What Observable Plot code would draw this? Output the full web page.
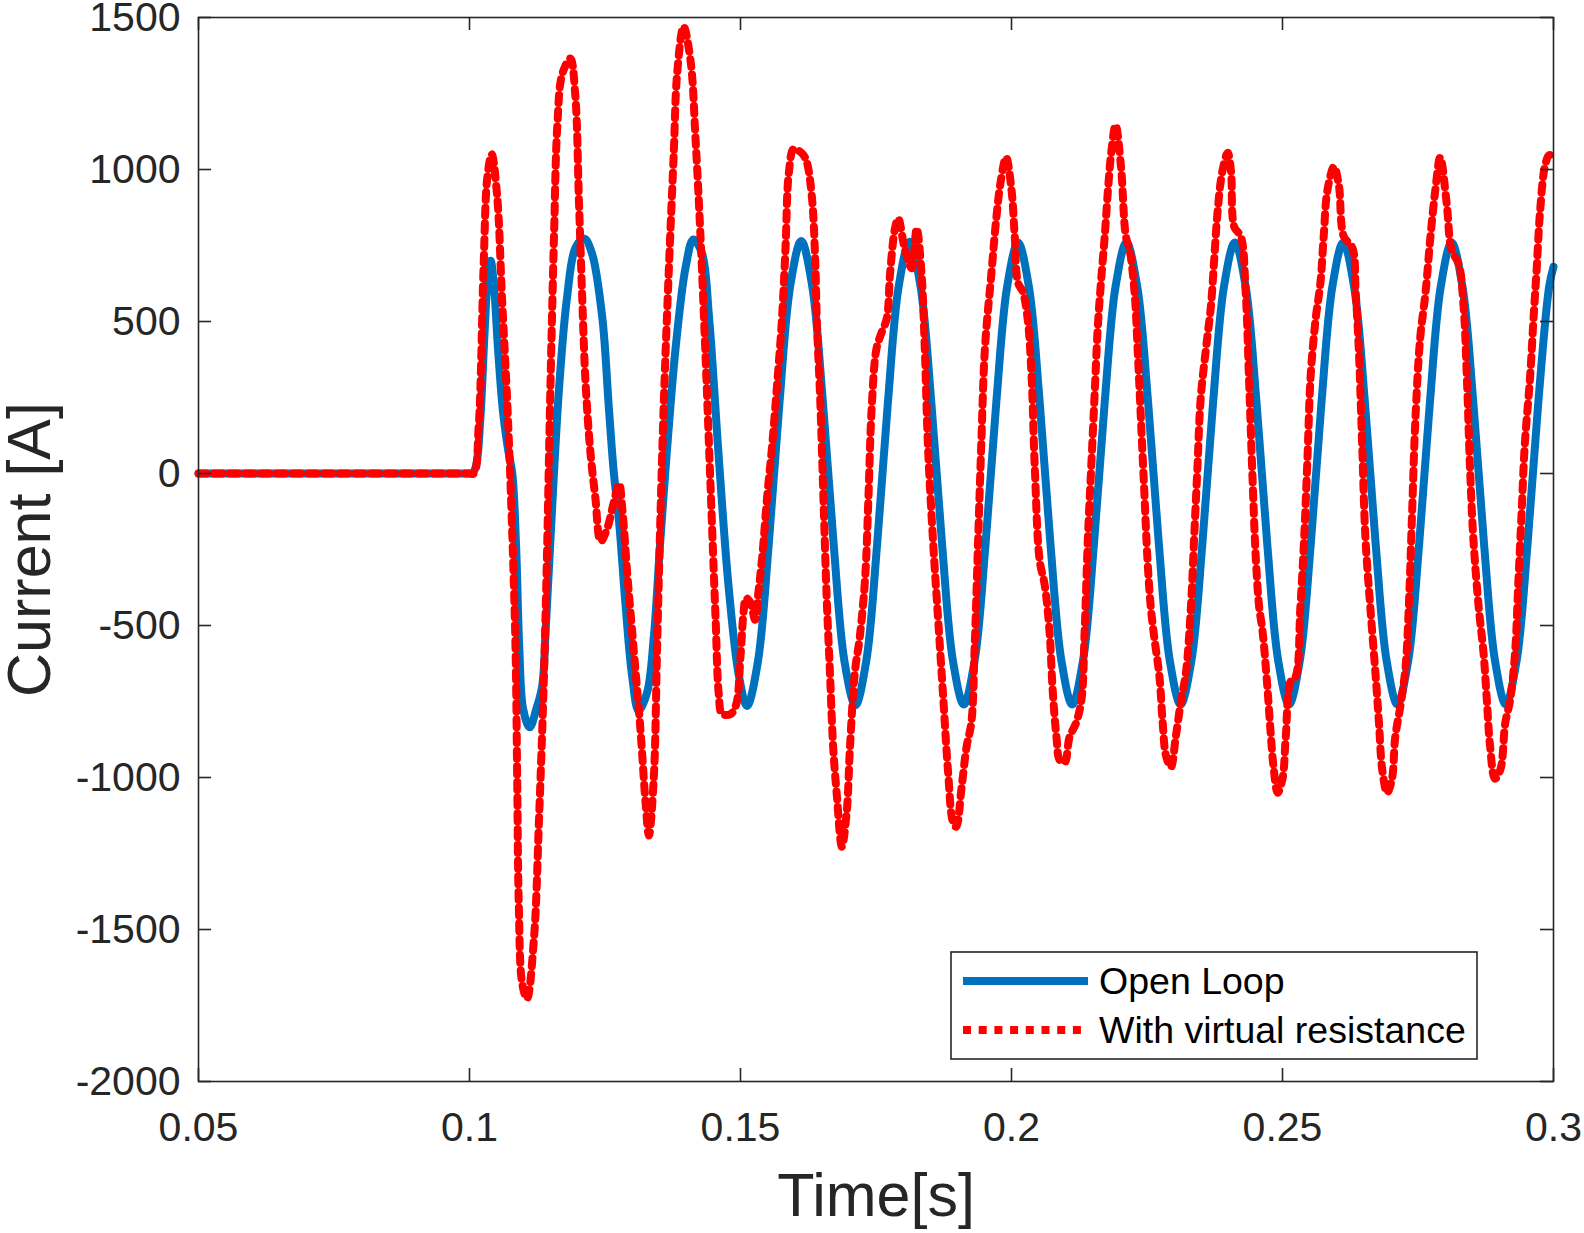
<!DOCTYPE html>
<html>
<head>
<meta charset="utf-8">
<script src="https://cdn.jsdelivr.net/npm/d3@7"></script>
<script src="https://cdn.jsdelivr.net/npm/@observablehq/plot@0.6"></script>
<style>
  html, body { margin: 0; padding: 0; background: #fff; overflow: hidden; }
  #wrap { position: relative; width: 1584px; height: 1233px; font-family: "Liberation Sans", Arial, sans-serif; }
  #wrap > svg { display: block; }
  #legend { position: absolute; left: 0; top: 0; }
</style>
</head>
<body>
<div id="wrap"></div>
<script>
// ---------- data ----------
const xTicks = [0.05, 0.1, 0.15, 0.2, 0.25, 0.3];
const xTickLabels = ["0.05", "0.1", "0.15", "0.2", "0.25", "0.3"];
const yTicks = [-2000, -1500, -1000, -500, 0, 500, 1000, 1500];
const yTickLabels = ["-2000", "-1500", "-1000", "-500", "0", "500", "1000", "1500"];
const xLabel = "Time[s]";
const yLabel = "Current [A]";
const seriesNames = ["Open Loop", "With virtual resistance"];

// Open Loop (blue)
const openLoopT = [
  0.050, 0.060, 0.070, 0.080, 0.090, 0.095, 0.1000, 0.1005, 0.1012, 0.1020, 0.1028, 0.1034, 0.1039, 0.1045, 0.1053, 0.1062,
  0.1072, 0.1079, 0.1086, 0.1092, 0.1099, 0.1111, 0.1124, 0.1134, 0.1141, 0.1154,
  0.1166, 0.1180, 0.1196, 0.1212, 0.1226, 0.1245, 0.1257, 0.1266, 0.1276, 0.1288,
  0.1300, 0.1312, 0.1328, 0.1340, 0.1352, 0.1365, 0.1380, 0.1399, 0.1413, 0.1429,
  0.1442, 0.1460, 0.1478, 0.1497, 0.1512,
  0.1532, 0.1552, 0.1572, 0.1592, 0.1612, 0.1632, 0.1652, 0.1672, 0.1692, 0.1712,
  0.1732, 0.1752, 0.1772, 0.1792, 0.1812, 0.1832, 0.1852, 0.1872, 0.1892, 0.1912,
  0.1932, 0.1952, 0.1972, 0.1992, 0.2012, 0.2032, 0.2052, 0.2072, 0.2092, 0.2112,
  0.2132, 0.2152, 0.2172, 0.2192, 0.2212, 0.2232, 0.2252, 0.2272, 0.2292, 0.2312,
  0.2332, 0.2352, 0.2372, 0.2392, 0.2412, 0.2432, 0.2452, 0.2472, 0.2492, 0.2512,
  0.2532, 0.2552, 0.2572, 0.2592, 0.2612, 0.2632, 0.2652, 0.2672, 0.2692, 0.2712,
  0.2732, 0.2752, 0.2772, 0.2792, 0.2812, 0.2832, 0.2852, 0.2872, 0.2892, 0.2912,
  0.2932, 0.2952, 0.2972, 0.2992, 0.3000
];
const openLoopI = [
  0, 0, 0, 0, 0, 0, 0, 0, 25, 180, 470, 650, 700, 620, 400, 200,
  70, 0, -240, -580, -775, -835, -770, -700, -500, -60,
  300, 580, 745, 772, 724, 513, 219, 8, -160, -434,
  -665, -781, -718, -539, -223, 92, 408, 681, 770, 724,
  513, 50, -371, -665, -765,
  -620, -235, 235, 620, 765, 620, 235, -235, -620, -762,
  -617, -235, 235, 617, 762, 617, 235, -235, -617, -760,
  -615, -235, 235, 615, 760, 615, 235, -235, -615, -760,
  -615, -235, 235, 615, 760, 615, 235, -235, -615, -760,
  -615, -235, 235, 615, 760, 615, 235, -235, -615, -760,
  -615, -235, 235, 615, 760, 615, 235, -235, -615, -760,
  -615, -235, 235, 615, 760, 615, 235, -235, -615, -760,
  -615, -235, 235, 615, 680
];

// With virtual resistance (red)
const virtualResT = [
  0.050, 0.060, 0.070, 0.080, 0.090, 0.095, 0.1000, 0.1008, 0.1017, 0.1026, 0.1033, 0.1041, 0.1051, 0.1060, 0.1070, 0.1079,
  0.1085, 0.1088, 0.1091, 0.1097, 0.1106, 0.1119, 0.1128, 0.1137, 0.1143, 0.1149,
  0.1156, 0.1162, 0.1171, 0.1186, 0.1195, 0.1202, 0.1208, 0.1214, 0.1223, 0.1232,
  0.1242, 0.1254, 0.1266, 0.1276, 0.1282, 0.1291, 0.1303, 0.1315, 0.1325, 0.1331,
  0.1340, 0.1346, 0.1352, 0.1359, 0.1368, 0.1377, 0.1383, 0.1395, 0.1408, 0.1417,
  0.1426, 0.1435, 0.1445, 0.1454, 0.1460, 0.1466, 0.1482, 0.1492, 0.1500, 0.1506,
  0.1510, 0.1518, 0.1527, 0.1533, 0.1540, 0.1549, 0.1558, 0.1567, 0.1576, 0.1583,
  0.1589, 0.1598, 0.1607, 0.1615, 0.1622, 0.1632, 0.1638, 0.1641, 0.1647, 0.1653,
  0.1659, 0.1665, 0.1671, 0.1678, 0.1687, 0.1696, 0.1702, 0.1711, 0.1720, 0.1730,
  0.1736, 0.1742, 0.1751, 0.1760, 0.1770, 0.1776, 0.1785, 0.1791, 0.1803, 0.1816,
  0.1825, 0.1834, 0.1840, 0.1846, 0.1856, 0.1865, 0.1874, 0.1883, 0.1892, 0.1898,
  0.1908, 0.1917, 0.1926, 0.1932, 0.1938, 0.1944, 0.1951, 0.1963, 0.1972, 0.1980,
  0.1990, 0.2000, 0.2006, 0.2012, 0.2021, 0.2030, 0.2037, 0.2043, 0.2052, 0.2061,
  0.2070, 0.2076, 0.2083, 0.2089, 0.2098, 0.2107, 0.2119, 0.2129, 0.2135, 0.2141,
  0.2147, 0.2153, 0.2159, 0.2165, 0.2172, 0.2178, 0.2184, 0.2192, 0.2202, 0.2211,
  0.2218, 0.2227, 0.2233, 0.2239, 0.2245, 0.2251, 0.2257, 0.2264, 0.2273, 0.2279,
  0.2285, 0.2294, 0.2303, 0.2313, 0.2322, 0.2331, 0.2337, 0.2343, 0.2349, 0.2359,
  0.2368, 0.2374, 0.2380, 0.2389, 0.2399, 0.2405, 0.2411, 0.2423, 0.2432, 0.2438,
  0.2444, 0.2451, 0.2457, 0.2463, 0.2472, 0.2478, 0.2484, 0.2491, 0.2500, 0.2506,
  0.2515, 0.2524, 0.2533, 0.2540, 0.2546, 0.2552, 0.2561, 0.2570, 0.2576, 0.2583,
  0.2595, 0.2604, 0.2613, 0.2629, 0.2635, 0.2641, 0.2647, 0.2653, 0.2662, 0.2672,
  0.2678, 0.2684, 0.2693, 0.2702, 0.2708, 0.2718, 0.2727, 0.2733, 0.2739, 0.2745,
  0.2754, 0.2764, 0.2773, 0.2782, 0.2791, 0.2803, 0.2812, 0.2825, 0.2834, 0.2840,
  0.2846, 0.2852, 0.2862, 0.2871, 0.2877, 0.2883, 0.2892, 0.2902, 0.2911, 0.2920,
  0.2929, 0.2935, 0.2941, 0.2947, 0.2957, 0.2963, 0.2969, 0.2975, 0.2984, 0.2992,
  0.3000
];
const virtualResI = [
  0, 0, 0, 0, 0, 0, 0, 0, 156, 681, 976, 1050, 913, 576, 219, -202,
  -581, -1002, -1422, -1675, -1728, -1528, -1149, -686, -265, 261,
  787, 1144, 1313, 1365, 1249, 892, 576, 303, 71, -76,
  -223, -181, -97, -34, -118, -328, -581, -833, -1086, -1191,
  -1002, -581, -160, 261, 681, 1060, 1313, 1470, 1355, 1102,
  787, 408, -55, -476, -728, -791, -791, -760, -600, -450,
  -410, -424, -481, -391, -276, -80, 84, 281, 494, 740,
  986, 1068, 1062, 1050, 1027, 904, 691, 494, 248, -80,
  -408, -654, -900, -1064, -1228, -1113, -900, -654, -539, -342,
  -80, 215, 412, 462, 511, 658, 806, 839, 740, 675,
  806, 658, 412, 84, -244, -490, -736, -982, -1146, -1162,
  -1031, -900, -818, -572, -244, 84, 412, 660, 840, 960,
  1040, 933, 780, 628, 597, 506, 323, 18, -287, -364,
  -516, -714, -867, -943, -951, -867, -821, -745, -516, -211,
  18, 246, 475, 628, 780, 933, 1055, 1146, 1009, 780,
  735, 597, 399, 170, -59, -287, -440, -547, -669, -821,
  -928, -966, -867, -745, -653, -440, -211, 18, 246, 414,
  552, 704, 856, 994, 1055, 994, 811, 780, 597, 323,
  18, -287, -440, -516, -700, -850, -974, -1050, -1004, -867,
  -684, -669, -440, -211, 48, 323, 506, 628, 780, 933,
  1009, 948, 780, 742, 597, 399, 94, -211, -440, -669,
  -821, -974, -1050, -1004, -867, -760, -638, -440, -135, 170,
  445, 597, 780, 933, 1040, 887, 735, 689, 552, 323,
  18, -211, -440, -592, -745, -897, -1004, -974, -821, -745,
  -592, -364, -135, 94, 323, 506, 674, 856, 1009, 1047,
  1045
];

// ---------- build ----------
const openLoop = openLoopT.map((t, i) => ({t, v: openLoopI[i]}));
const virtualRes = virtualResT.map((t, i) => ({t, v: virtualResI[i]}));

const W = 1584, H = 1233;
const mL = 198, mR = 31, mT = 17, mB = 152;
const plotW = W - mL - mR, plotH = H - mT - mB;
const tk = 13;
const ink = "#262626";
const BLUE = "#0072BD", RED = "#FF0000";
const FONT = "'Liberation Sans', Arial, Helvetica, sans-serif";

const chart = Plot.plot({
  width: W, height: H,
  marginLeft: mL, marginRight: mR, marginTop: mT, marginBottom: mB,
  style: {fontFamily: FONT, color: ink, background: "#fff", overflow: "visible"},
  x: {domain: [0.05, 0.3]},
  y: {domain: [-2000, 1500]},
  marks: [
    Plot.line(openLoop, {x: "t", y: "v", stroke: BLUE, strokeWidth: 8, curve: "catmull-rom"}),
    Plot.line(virtualRes, {x: "t", y: "v", stroke: RED, strokeWidth: 8, strokeDasharray: "8,7.7", curve: "catmull-rom"}),
    Plot.frame({stroke: ink, strokeWidth: 1.6}),
    Plot.tickX(xTicks, {x: d => d, insetTop: plotH - tk, stroke: ink, strokeWidth: 1.6}),
    Plot.tickX(xTicks, {x: d => d, insetBottom: plotH - tk, stroke: ink, strokeWidth: 1.6}),
    Plot.tickY(yTicks, {y: d => d, insetRight: plotW - tk, stroke: ink, strokeWidth: 1.6}),
    Plot.tickY(yTicks, {y: d => d, insetLeft: plotW - tk, stroke: ink, strokeWidth: 1.6}),
    Plot.axisX(xTicks, {tickSize: 0, tickPadding: 30, fontSize: 41, fill: ink, label: null,
      tickFormat: d => xTickLabels[xTicks.indexOf(d)]}),
    Plot.axisY(yTicks, {tickSize: 0, tickPadding: 18, fontSize: 41, fill: ink, label: null,
      tickFormat: d => yTickLabels[yTicks.indexOf(d)]}),
    Plot.text([xLabel], {text: d => d, frameAnchor: "bottom", dy: 115, fontSize: 61, fill: ink,
      lineAnchor: "middle", textAnchor: "middle"}),
    Plot.text([yLabel], {text: d => d, frameAnchor: "left", dx: -168, rotate: -90, fontSize: 61, fill: ink,
      lineAnchor: "middle", textAnchor: "middle"})
  ]
});
const wrap = document.getElementById("wrap");
wrap.appendChild(chart);

// ---------- legend (inside the axes, lower right) ----------
const NS = "http://www.w3.org/2000/svg";
const lg = document.createElementNS(NS, "svg");
lg.setAttribute("id", "legend");
lg.setAttribute("width", W);
lg.setAttribute("height", H);
lg.style.pointerEvents = "none";
const box = {x: 951, y: 952, w: 526, h: 107};
function el(tag, attrs, text) {
  const e = document.createElementNS(NS, tag);
  for (const k in attrs) e.setAttribute(k, attrs[k]);
  if (text) e.textContent = text;
  lg.appendChild(e);
  return e;
}
el("rect", {x: box.x, y: box.y, width: box.w, height: box.h, fill: "#fff", stroke: ink, "stroke-width": 1.6});
const rows = [
  {name: seriesNames[0], color: BLUE, dash: null, cy: box.y + 29},
  {name: seriesNames[1], color: RED, dash: "8,7.7", cy: box.y + 78}
];
for (const r of rows) {
  const a = {x1: box.x + 12, x2: box.x + 137, y1: r.cy, y2: r.cy, stroke: r.color, "stroke-width": 8};
  if (r.dash) a["stroke-dasharray"] = r.dash;
  el("line", a);
  el("text", {x: box.x + 148, y: r.cy, "dominant-baseline": "central", "font-size": 37.5,
    "font-family": FONT, fill: "#000"}, r.name);
}
wrap.appendChild(lg);
</script>
</body>
</html>
